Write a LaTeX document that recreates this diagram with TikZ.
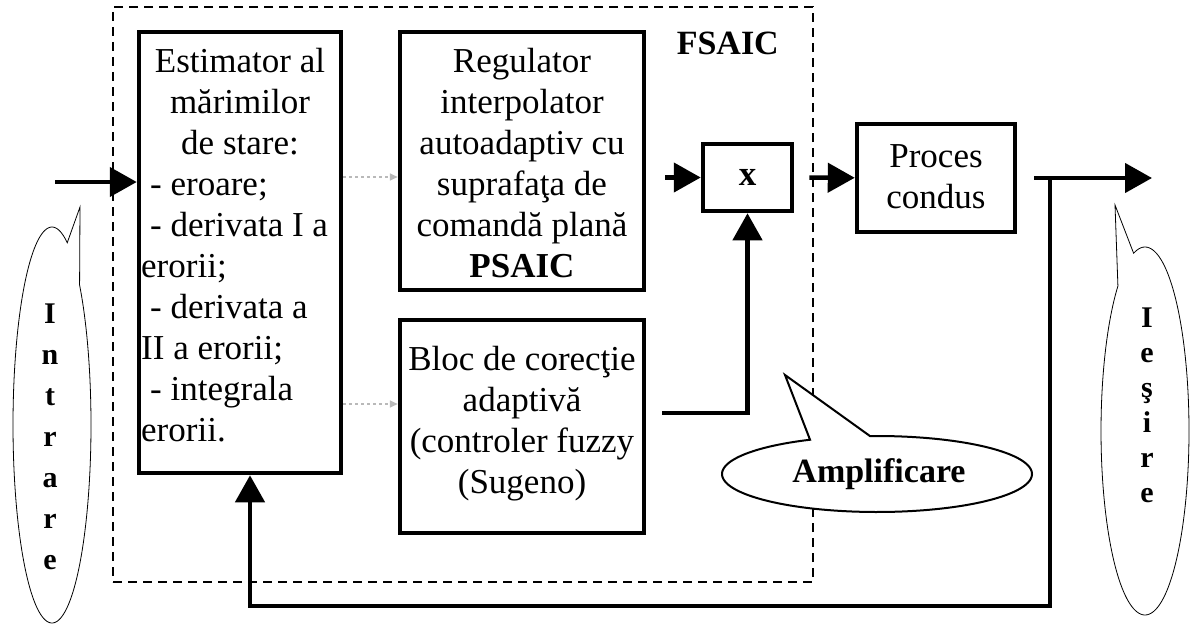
\documentclass[tikz,border=0pt]{standalone}
\usepackage{fontspec}
\setmainfont{Liberation Serif}
\usetikzlibrary{arrows.meta}
\begin{document}
\begin{tikzpicture}[x=1pt,y=-1pt,
  box/.style={draw, line width=4.5pt, inner sep=0pt},
  group/.style={draw, line width=2pt, dash pattern=on 9pt off 6pt, inner sep=0pt},
  conn/.style={line width=4.5pt, -{Triangle[length=27pt,width=29pt]}},
  faint/.style={gray!55, line width=1.6pt, dash pattern=on 3pt off 3pt, -{Triangle[length=8pt,width=7pt]}},
  txt/.style={inner sep=0pt, font=\fontsize{35}{41}\selectfont},
  btxt/.style={inner sep=0pt, font=\fontsize{34}{41}\selectfont\bfseries},
  vtxtA/.style={inner sep=0pt, font=\fontsize{30}{41}\selectfont\bfseries},
  vtxtB/.style={inner sep=0pt, font=\fontsize{30}{35}\selectfont\bfseries},
  callout/.style={draw, line width=0.8pt, fill=white},
  bcallout/.style={draw, line width=2pt, fill=white}
]
\useasboundingbox (0,0) rectangle (1190,626);

% group
\node[group, minimum width=700pt, minimum height=575pt] (grp) at (463,294.5) {};
\node[btxt, anchor=base east] (fsaic) at (779,55) {FSAIC};

% boxes
\node[box, minimum width=202pt, minimum height=441pt] (est) at (240,252.5) {};
\node[box, minimum width=244pt, minimum height=258pt] (reg) at (522,161) {};
\node[box, minimum width=244pt, minimum height=213pt] (bloc) at (522,426.5) {};
\node[box, minimum width=89pt, minimum height=67pt] (X) at (747.5,177.5) {};
\node[box, minimum width=158pt, minimum height=108pt] (proces) at (936,178) {};

% texts
\node[txt, anchor=base] (esthead) at (240,72) {\begin{tabular}[t]{@{}c@{}}Estimator al\\ mărimilor\\ de stare:\end{tabular}};
\node[txt, anchor=base west] (estlist) at (141,195) {\begin{tabular}[t]{@{}l@{}}\hspace{9pt}- eroare;\\ \hspace{9pt}- derivata I a\\ erorii;\\ \hspace{9pt}- derivata a\\ II a erorii;\\ \hspace{9pt}- integrala\\ erorii.\end{tabular}};
\node[txt, anchor=base] (regtxt) at (522,72) {\begin{tabular}[t]{@{}c@{}}Regulator\\ interpolator\\ autoadaptiv cu\\ suprafaţa de\\ comandă plană\\ \textbf{PSAIC}\end{tabular}};
\node[txt, anchor=base] (bloctxt) at (522,370) {\begin{tabular}[t]{@{}c@{}}Bloc de corecţie\\ adaptivă\\ (controler fuzzy\\ (Sugeno)\end{tabular}};
\node[txt, anchor=base] (xtxt) at (747.5,185) {\textbf{x}};
\node[txt, anchor=base] (procestxt) at (936,167) {\begin{tabular}[t]{@{}c@{}}Proces\\ condus\end{tabular}};

% connectors
\coordinate (inp) at (55,182);
\draw[conn] (inp) -- (inp -| est.west);
\coordinate (f1) at (370,177);
\coordinate (f2) at (370,404);
\draw[faint] (est.east |- f1) -- (reg.west |- f1);
\draw[faint] (est.east |- f2) -- (bloc.west |- f2);
\draw[conn, shorten <=19pt] (reg.east |- X.west) -- (X.west);
\coordinate (bcout) at (662,413);
\draw[conn] (bcout) -| (X.south);
\draw[conn, shorten <=15pt] (X) -- (proces);
\coordinate (out) at (1152,178);
\draw[conn, shorten <=17pt] (proces) -- (out);
\coordinate (branch) at (1050,178);
\coordinate (fbcorner) at (1050,606);
\draw[conn] (branch) -- (fbcorner) -| ([xshift=10pt]est.south);

% callouts
\draw[callout] plot[domain=-45:293, samples=150] ({52+39*cos(\x)},{425+198*sin(\x)}) -- (80,207) -- cycle;
\node[vtxtA, anchor=base] (intrare) at (50,323) {\begin{tabular}[t]{@{}c@{}}I\\ n\\ t\\ r\\ a\\ r\\ e\end{tabular}};
\draw[callout] plot[domain=-105:232, samples=150] ({1145+44*cos(\x)},{431+184*sin(\x)}) -- (1115,205) -- cycle;
\node[vtxtB, anchor=base] (iesire) at (1147,327) {\begin{tabular}[t]{@{}c@{}}I\\ e\\ ş\\ i\\ r\\ e\end{tabular}};
\draw[bcallout] plot[domain=-92.6:244.4, samples=150] ({877+155*cos(\x)},{474+38*sin(\x)}) -- (785,375) -- cycle;
\node[btxt, anchor=base] (ampl) at (879,482) {Amplificare};
\end{tikzpicture}
\end{document}
